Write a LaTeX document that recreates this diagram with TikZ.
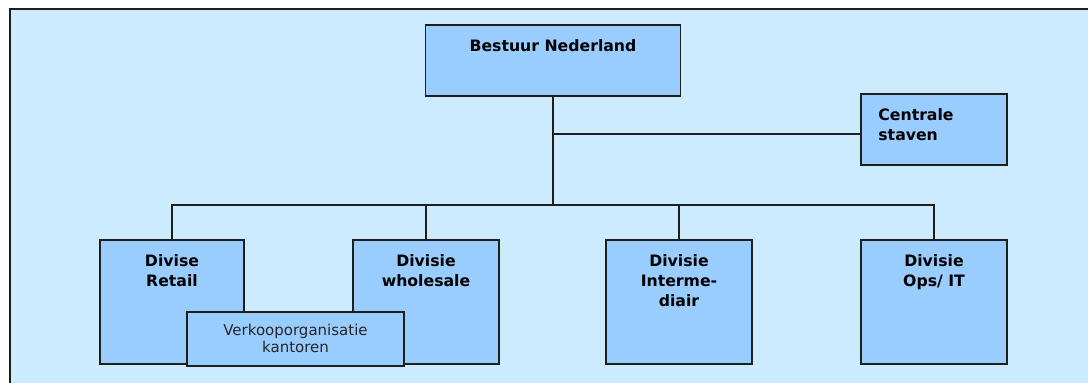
\documentclass[tikz,border=0pt]{standalone}
\usepackage{fontspec}
\setmainfont{DejaVu Sans}
\definecolor{bgblue}{HTML}{CCEBFF}
\definecolor{boxblue}{HTML}{99CCFF}
\definecolor{linegray}{HTML}{1E1E1E}
\tikzset{
  orgbox/.style={draw=linegray, line width=1.6pt, fill=boxblue, rectangle, inner sep=0pt},
  orgtxt/.style={font=\fontsize{15.7}{20}\selectfont\bfseries, align=center, inner sep=0pt, text=black},
  subtxt/.style={font=\fontsize{15}{17}\selectfont, align=center, inner sep=0pt, text=black!85},
  conn/.style={draw=linegray, line width=1.6pt}
}
\begin{document}
\begin{tikzpicture}[x=1pt,y=-1pt]
\useasboundingbox (0,0) rectangle (1088,383);
\clip (0,0) rectangle (1088,383);
% frame
\draw[fill=bgblue, draw=linegray, line width=2pt] (9.5,8.5) rectangle (1100,400);
% boxes
\node[orgbox, minimum width=255, minimum height=71] (bn) at (553,60.5) {};
\node[orgtxt, anchor=north] (bnt) at ([yshift=-15]bn.north) {Bestuur Nederland};
\node[orgbox, minimum width=146, minimum height=71] (cs) at (934,129.5) {};
\node[orgtxt, anchor=north west, align=left] (cst) at ([xshift=18,yshift=-15]cs.north west) {Centrale\\staven};
\node[orgbox, minimum width=144, minimum height=124] (rt) at (172,302) {};
\node[orgtxt, anchor=north] (rtt) at ([yshift=-15]rt.north) {Divise\\Retail};
\node[orgbox, minimum width=146, minimum height=124] (ws) at (426,302) {};
\node[orgtxt, anchor=north] (wst) at ([yshift=-15]ws.north) {Divisie\\wholesale};
\node[orgbox, minimum width=146, minimum height=124] (im) at (679,302) {};
\node[orgtxt, anchor=north] (imt) at ([yshift=-15]im.north) {Divisie\\Interme-\\diair};
\node[orgbox, minimum width=146, minimum height=124] (ops) at (934,302) {};
\node[orgtxt, anchor=north] (opst) at ([yshift=-15]ops.north) {Divisie\\Ops/ IT};
\node[orgbox, minimum width=217, minimum height=54] (vk) at (295.5,339) {};
\node[subtxt, anchor=north] (vkt) at ([yshift=-13]vk.north) {Verkooporganisatie\\kantoren};
% connectors
\path (bn.south) ++(0,37) coordinate (j1) ++(0,71) coordinate (j2);
\draw[conn] (bn.south) -- (j2);
\draw[conn] (j1) -- (j1 -| cs.west);
\draw[conn] (rt.north) |- (j2) -| (ops.north);
\draw[conn] (ws.north) -- (ws.north |- j2);
\draw[conn] (im.north) -- (im.north |- j2);
\end{tikzpicture}
\end{document}
